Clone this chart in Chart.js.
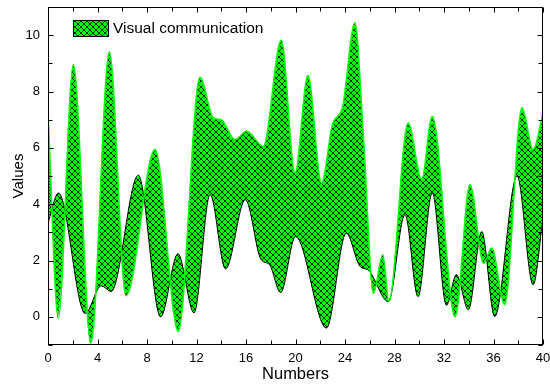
<!DOCTYPE html>
<html>
<head>
<meta charset="utf-8">
<script src="https://cdn.jsdelivr.net/npm/chart.js@4/dist/chart.umd.min.js"></script>
<style>
  html, body { margin: 0; padding: 0; background: #fff; }
</style>
</head>
<body>
<canvas id="chart" width="550" height="384"></canvas>
<script>
// upper, spiky curve (green edge)
let aX = [0, 0.83, 2.05, 3.47, 4.96, 6.3, 8.65, 10.53, 12.28, 13.36, 14.0, 15.1, 16.06, 17.4, 18.85, 19.96, 21.0, 22.1, 23.0, 23.8, 24.8, 25.5, 26.3, 27.05, 27.55, 29.1, 30.2, 31.05, 32.9, 34.1, 35.2, 35.85, 36.9, 38.3, 39.2, 40];
let aY = [7.25, -0.05, 8.96, -0.94, 9.41, 0.75, 5.94, -0.52, 8.51, 7.06, 7.0, 6.29, 6.59, 6.05, 9.82, 5.1, 8.57, 4.75, 6.85, 7.45, 10.44, 6.3, 0.84, 2.2, 0.55, 6.88, 4.87, 7.12, 0.0, 4.69, 1.9, 2.44, 0.43, 7.42, 5.94, 7.24];

// lower curve (black edge)
let bX = [0, 0.85, 3.0, 4.3, 5.1, 7.3, 9.1, 10.5, 11.8, 13.1, 14.35, 15.95, 17.2, 17.9, 18.8, 20.0, 22.5, 24.1, 25.2, 25.9, 27.5, 28.85, 29.9, 31.05, 32.2, 33.0, 33.97, 35.05, 36.1, 37.9, 39.2, 40];
let bY = [3.33, 4.4, 0.12, 1.1, 0.9, 5.03, 0.0, 2.24, 0.14, 4.34, 1.7, 4.16, 2.05, 1.85, 0.86, 2.85, -0.4, 2.97, 1.8, 1.65, 0.54, 3.63, 0.72, 4.4, 0.41, 1.5, 0.25, 3.03, 0.01, 5.0, 1.14, 3.5];

let xTicks = [0, 4, 8, 12, 16, 20, 24, 28, 32, 36, 40];
let xMinor = [2, 6, 10, 14, 18, 22, 26, 30, 34, 38];
let yTicks = [0, 2, 4, 6, 8, 10];
let yMinor = [-1, 1, 3, 5, 7, 9, 11];

let seriesName = 'Visual communication';

function hatch() {
  let s = 6;
  let c = document.createElement('canvas');
  c.width = s;
  c.height = s;
  let g = c.getContext('2d');
  g.fillStyle = '#00ff00';
  g.fillRect(0, 0, s, s);
  g.strokeStyle = '#000';
  g.lineWidth = 0.8;
  g.beginPath();
  for (let k = -s; k <= s; k += s) {
    g.moveTo(k, 0); g.lineTo(k + s, s);
    g.moveTo(k, s); g.lineTo(k + s, 0);
  }
  g.stroke();
  return g.createPattern(c, 'repeat');
}

let pattern = hatch();

function pts(xs, ys) {
  return xs.map((x, i) => ({x: x, y: ys[i]}));
}

function noPad(s) {
  s.paddingTop = 0;
  s.paddingBottom = 0;
  s.paddingLeft = 0;
  s.paddingRight = 0;
}

// box, inward ticks and legend drawn on top
let frame = {
  id: 'frame',
  afterDraw(chart) {
    let ctx = chart.ctx;
    let a = chart.chartArea;
    let x = chart.scales.x, y = chart.scales.y;
    let L = Math.round(a.left) + 0.5, R = Math.round(a.right) - 0.5;
    let T = Math.round(a.top) + 0.5, B = Math.round(a.bottom) - 0.5;
    ctx.save();
    ctx.strokeStyle = '#000';
    ctx.lineWidth = 1;
    ctx.strokeRect(L, T, R - L, B - T);
    ctx.beginPath();
    let xt = (vals, len) => vals.forEach(v => {
      let p = Math.round(x.getPixelForValue(v)) + 0.5;
      ctx.moveTo(p, B); ctx.lineTo(p, B - len);
      ctx.moveTo(p, T); ctx.lineTo(p, T + len);
    });
    let yt = (vals, len) => vals.forEach(v => {
      let p = Math.round(y.getPixelForValue(v)) + 0.5;
      ctx.moveTo(L, p); ctx.lineTo(L + len, p);
      ctx.moveTo(R, p); ctx.lineTo(R - len, p);
    });
    xt(xTicks, 5); xt(xMinor, 4);
    yt(yTicks, 5); yt(yMinor, 4);
    ctx.stroke();

    // legend
    let bx = 73.5, by = 20.5, bw = 35, bh = 16;
    ctx.fillStyle = pattern;
    ctx.fillRect(bx, by, bw, bh);
    ctx.strokeRect(bx, by, bw, bh);
    ctx.fillStyle = '#000';
    ctx.font = '15.5px "Liberation Sans", Arial, sans-serif';
    ctx.textBaseline = 'middle';
    ctx.fillText(seriesName, 113, by + bh / 2 + 0.5);
    ctx.restore();
  }
};

let chart = new Chart(document.getElementById('chart'), {
  type: 'line',
  data: {
    datasets: [{
      label: seriesName,
      data: pts(aX, aY),
      borderColor: '#00ff00',
      borderWidth: 1.5,
      pointRadius: 0,
      cubicInterpolationMode: 'monotone',
      fill: false
    }, {
      label: '',
      data: pts(bX, bY),
      borderColor: '#000',
      borderWidth: 1,
      pointRadius: 0,
      cubicInterpolationMode: 'monotone',
      backgroundColor: pattern,
      fill: '-1'
    }]
  },
  options: {
    responsive: false,
    animation: false,
    layout: { padding: { top: 7, right: 7, left: 0, bottom: 0 } },
    plugins: {
      legend: { display: false },
      tooltip: { enabled: false }
    },
    scales: {
      x: {
        type: 'linear',
        min: 0,
        max: 40,
        grid: { display: false, drawTicks: false },
        border: { display: false },
        afterBuildTicks: s => { s.ticks = xTicks.map(v => ({value: v})); },
        ticks: {
          padding: 7,
          maxRotation: 0,
          autoSkip: false,
          color: '#000',
          font: { family: '"Liberation Sans", Arial, sans-serif', size: 13, lineHeight: 1 }
        },
        title: {
          display: true,
          text: 'Numbers',
          color: '#000',
          padding: { top: 0, bottom: 0 },
          font: { family: '"Liberation Sans", Arial, sans-serif', size: 16.5 }
        },
        afterFit: s => { s.height = 39; noPad(s); }
      },
      y: {
        min: -1,
        max: 11,
        grid: { display: false, drawTicks: false },
        border: { display: false },
        afterBuildTicks: s => { s.ticks = yTicks.map(v => ({value: v})); },
        ticks: {
          padding: 8,
          color: '#000',
          font: { family: '"Liberation Sans", Arial, sans-serif', size: 13, lineHeight: 1 }
        },
        title: {
          display: true,
          text: 'Values',
          color: '#000',
          padding: { top: 10, bottom: 0 },
          font: { family: '"Liberation Sans", Arial, sans-serif', size: 15 }
        },
        afterFit: s => { s.width = 48; noPad(s); }
      }
    }
  },
  plugins: [frame]
});
</script>
</body>
</html>
